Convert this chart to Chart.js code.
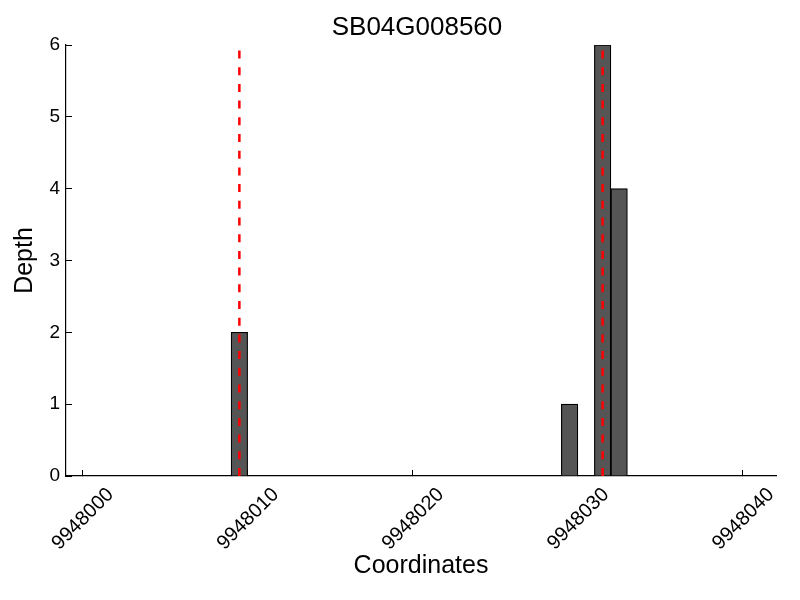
<!DOCTYPE html>
<html>
<head>
<meta charset="utf-8">
<script src="https://cdn.jsdelivr.net/npm/chart.js@4"></script>
<style>
  html, body { margin: 0; padding: 0; background: #ffffff; }
  #wrap { width: 800px; height: 600px; }
</style>
</head>
<body>
<div id="wrap"><canvas id="c" width="800" height="600"></canvas></div>
<script>
// ---- data ----
const chartTitle = 'SB04G008560';
const xAxisLabel = 'Coordinates';
const yAxisLabel = 'Depth';
// bin centres (bins are 1 bp wide) and their depth
const binCenters = [9948009.5, 9948029.5, 9948031.5, 9948032.5];
const depths = [2, 1, 6, 4];
// positions of the red dashed marker lines
const markerPositions = [9948009.5, 9948031.5];
const markerHeight = 6;
// axis ranges and tick values
const xRange = [9947999, 9948042];
const xTickStep = 10;
const yRange = [0, 6];
const yTickStep = 1;

const FONT = "'Liberation Sans', Arial, Helvetica, sans-serif";

const barData = binCenters.map((x, i) => ({ x: x, y: depths[i] }));
const markerDatasets = markerPositions.map(p => ({
  type: 'line',
  data: [{ x: p, y: 0 }, { x: p, y: markerHeight }],
  borderColor: '#ff0000',
  borderWidth: 2.5,
  borderDash: [8, 8.7],
  pointRadius: 0,
  fill: false,
  order: 0
}));

const titlePlugin = {
  id: 'mainTitle',
  afterDraw(chart) {
    const { ctx, chartArea } = chart;
    ctx.save();
    ctx.font = '26px ' + FONT;
    ctx.fillStyle = '#000';
    ctx.textAlign = 'center';
    ctx.textBaseline = 'middle';
    ctx.fillText(chartTitle, (chartArea.left + chartArea.right) / 2 - 4, 28);
    ctx.restore();
  }
};

new Chart(document.getElementById('c'), {
  type: 'bar',
  data: {
    datasets: [
      {
        type: 'bar',
        data: barData,
        backgroundColor: '#555555',
        borderColor: '#000000',
        borderWidth: 1.2,
        barPercentage: 1.0,
        categoryPercentage: 1.0,
        order: 1
      },
      ...markerDatasets
    ]
  },
  options: {
    responsive: false,
    animation: false,
    layout: { padding: { top: 45, right: 24, left: 0, bottom: 0 } },
    plugins: {
      legend: { display: false },
      tooltip: { enabled: false },
      title: { display: false }
    },
    scales: {
      x: {
        type: 'linear',
        min: xRange[0],
        max: xRange[1],
        offset: false,
        afterFit: s => { s.height = 124; },
        border: { display: true, color: '#000', width: 1.2 },
        grid: { display: true, drawOnChartArea: false, drawTicks: true, tickLength: -6, color: '#000', offset: false },
        ticks: {
          stepSize: xTickStep,
          includeBounds: false,
          autoSkip: false,
          minRotation: 45,
          maxRotation: 45,
          labelOffset: 28,
          padding: 13,
          color: '#000',
          font: { family: FONT, size: 20 },
          callback: v => String(v)
        },
        title: {
          display: true,
          text: xAxisLabel,
          color: '#000',
          font: { family: FONT, size: 25 },
          padding: { top: 0, bottom: 19 }
        }
      },
      y: {
        type: 'linear',
        min: yRange[0],
        max: yRange[1],
        afterFit: s => { s.width = 66; },
        border: { display: true, color: '#000', width: 1.2 },
        grid: { display: true, drawOnChartArea: false, drawTicks: true, tickLength: -6, color: '#000' },
        ticks: {
          stepSize: yTickStep,
          padding: 12,
          color: '#000',
          font: { family: FONT, size: 19 }
        },
        title: {
          display: true,
          text: yAxisLabel,
          color: '#000',
          font: { family: FONT, size: 25 },
          padding: { top: 10, bottom: 0 }
        }
      }
    }
  },
  plugins: [titlePlugin]
});
</script>
</body>
</html>
